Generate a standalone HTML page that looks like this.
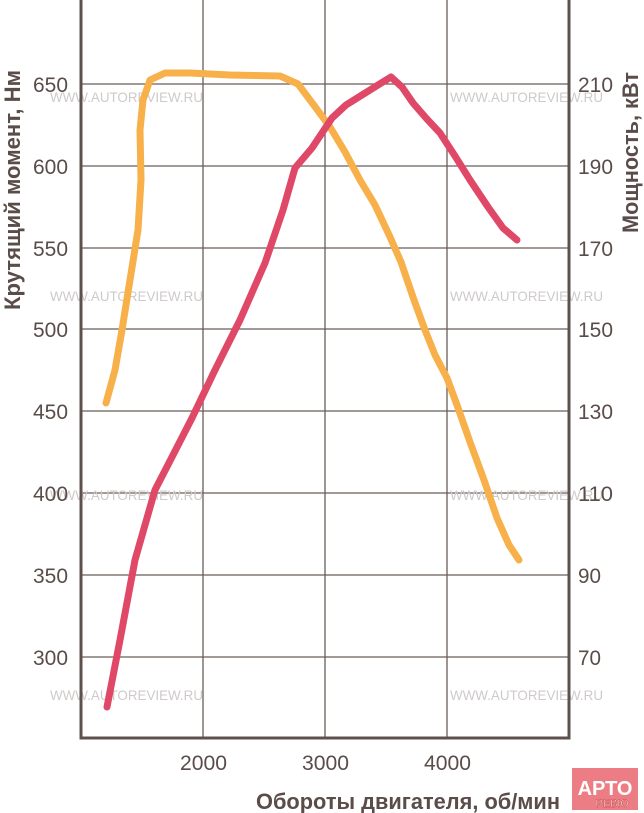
<!DOCTYPE html>
<html><head><meta charset="utf-8"><style>
body{margin:0;background:#fff;}
svg{display:block;}
text{font-family:"Liberation Sans",sans-serif;}
</style></head><body>
<svg width="644" height="813" viewBox="0 0 644 813" xmlns="http://www.w3.org/2000/svg">
<g stroke="#6b5d59" stroke-width="1.3">
<line x1="203" y1="0" x2="203" y2="738"/><line x1="325" y1="0" x2="325" y2="738"/><line x1="447" y1="0" x2="447" y2="738"/>
<line x1="81" y1="84" x2="569" y2="84"/><line x1="81" y1="166" x2="569" y2="166"/><line x1="81" y1="248" x2="569" y2="248"/>
<line x1="81" y1="329" x2="569" y2="329"/><line x1="81" y1="411" x2="569" y2="411"/><line x1="81" y1="493" x2="569" y2="493"/>
<line x1="81" y1="575" x2="569" y2="575"/><line x1="81" y1="657" x2="569" y2="657"/>
</g>
<g fill="#cfcaca" font-size="14">
<text x="50" y="102" textLength="153" lengthAdjust="spacingAndGlyphs">WWW.AUTOREVIEW.RU</text><text x="450" y="102" textLength="153" lengthAdjust="spacingAndGlyphs">WWW.AUTOREVIEW.RU</text>
<text x="50" y="301" textLength="153" lengthAdjust="spacingAndGlyphs">WWW.AUTOREVIEW.RU</text><text x="450" y="301" textLength="153" lengthAdjust="spacingAndGlyphs">WWW.AUTOREVIEW.RU</text>
<text x="50" y="500" textLength="153" lengthAdjust="spacingAndGlyphs">WWW.AUTOREVIEW.RU</text><text x="450" y="500" textLength="153" lengthAdjust="spacingAndGlyphs">WWW.AUTOREVIEW.RU</text>
<text x="50" y="700" textLength="153" lengthAdjust="spacingAndGlyphs">WWW.AUTOREVIEW.RU</text><text x="450" y="700" textLength="153" lengthAdjust="spacingAndGlyphs">WWW.AUTOREVIEW.RU</text>
</g>
<polyline fill="none" stroke="#f8b04a" stroke-width="7" stroke-linecap="round" stroke-linejoin="round"
points="106,403 115,370 122,330 130,280 138,230 141,180 140,130 143,100 150,80 165,73 190,73 230,75 280,76 298,84 313,104 330,127 345,152 360,180 375,205 390,237 401,262 414,300 425,330 435,355 447,378 457,405 470,442 484,480 497,518 509,545 519,560"/>
<polyline fill="none" stroke="#e04868" stroke-width="7" stroke-linecap="round" stroke-linejoin="round"
points="107,707 120,640 135,560 155,490 172,457 192,418 215,370 240,320 265,263 283,210 295,168 312,148 332,118 346,105 362,95 378,85 391,77 402,87 413,103 426,118 440,133 455,156 470,180 488,207 503,228 517,240"/>
<g stroke="#5e504c" stroke-width="3" fill="none"><polyline points="81,0 81,738 569,738 569,0"/></g>
<g fill="#5a4c48" font-size="21">
<g text-anchor="end">
<text x="68" y="92" textLength="35" lengthAdjust="spacingAndGlyphs">650</text><text x="68" y="174" textLength="35" lengthAdjust="spacingAndGlyphs">600</text>
<text x="68" y="256" textLength="35" lengthAdjust="spacingAndGlyphs">550</text><text x="68" y="337" textLength="35" lengthAdjust="spacingAndGlyphs">500</text>
<text x="68" y="419" textLength="35" lengthAdjust="spacingAndGlyphs">450</text><text x="68" y="501" textLength="35" lengthAdjust="spacingAndGlyphs">400</text>
<text x="68" y="583" textLength="35" lengthAdjust="spacingAndGlyphs">350</text><text x="68" y="665" textLength="35" lengthAdjust="spacingAndGlyphs">300</text>
</g>
<text x="578" y="92" textLength="35" lengthAdjust="spacingAndGlyphs">210</text><text x="578" y="174" textLength="35" lengthAdjust="spacingAndGlyphs">190</text><text x="578" y="256" textLength="35" lengthAdjust="spacingAndGlyphs">170</text>
<text x="578" y="337" textLength="35" lengthAdjust="spacingAndGlyphs">150</text><text x="578" y="419" textLength="35" lengthAdjust="spacingAndGlyphs">130</text><text x="578" y="501" textLength="35" lengthAdjust="spacingAndGlyphs">110</text>
<text x="578" y="583" textLength="23" lengthAdjust="spacingAndGlyphs">90</text><text x="578" y="665" textLength="23" lengthAdjust="spacingAndGlyphs">70</text>
<text x="180" y="770" textLength="47" lengthAdjust="spacingAndGlyphs">2000</text><text x="302" y="770" textLength="47" lengthAdjust="spacingAndGlyphs">3000</text><text x="424" y="770" textLength="47" lengthAdjust="spacingAndGlyphs">4000</text>
</g>
<g fill="#5a4c48" font-size="22" font-weight="bold">
<text x="256" y="809" textLength="304" lengthAdjust="spacingAndGlyphs">Обороты двигателя, об/мин</text>
<text transform="translate(20,310) rotate(-90)" textLength="240" lengthAdjust="spacingAndGlyphs">Крутящий момент, Нм</text>
<text transform="translate(638,233) rotate(-90)" textLength="161" lengthAdjust="spacingAndGlyphs">Мощность, кВт</text>
</g>
<rect x="572" y="768" width="66" height="42" fill="#ec7d84"/>
<text x="605" y="795" font-size="20" font-weight="bold" fill="#fff" text-anchor="middle">АРТО</text>
<text x="612" y="807" font-size="11" fill="#fff" stroke="#b33" stroke-width="0.4" text-anchor="middle">РЕВЮ</text>
</svg>
</body></html>
